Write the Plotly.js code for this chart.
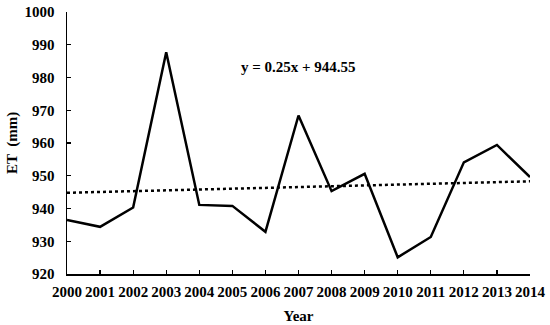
<!DOCTYPE html>
<html>
<head>
<meta charset="utf-8">
<script src="https://cdn.plot.ly/plotly-3.0.1.min.js"></script>
<style>
  body { margin: 0; background: #fff; }
  #graph { width: 550px; height: 325px; }
</style>
</head>
<body>
<div id="graph"></div>
<script>
var years = [2000, 2001, 2002, 2003, 2004, 2005, 2006, 2007, 2008, 2009, 2010, 2011, 2012, 2013, 2014];
var et = [936.5, 934.4, 940.3, 987.7, 941.1, 940.8, 932.9, 968.4, 945.3, 950.6, 925.1, 931.3, 954.1, 959.4, 949.6];

// trend line end points
var trendYears = [2000, 2014];
var trendValues = [944.8, 948.3];

var fontFamily = '"Liberation Serif", "Times New Roman", serif';

var etTrace = {
    type: 'scatter',
    mode: 'lines',
    x: years,
    y: et,
    line: {color: '#000', width: 2.5},
    hoverinfo: 'skip'
};

var trendTrace = {
    type: 'scatter',
    mode: 'lines',
    x: trendYears,
    y: trendValues,
    line: {color: '#000', width: 2.5, dash: 'dot'},
    hoverinfo: 'skip'
};

var layout = {
    width: 550,
    height: 325,
    margin: {l: 67, r: 20, t: 12, b: 51},
    paper_bgcolor: '#fff',
    plot_bgcolor: '#fff',
    showlegend: false,
    font: {family: fontFamily, size: 15, color: '#000', weight: 'bold'},
    xaxis: {
        range: [2000, 2014],
        tickmode: 'array',
        tickvals: years,
        ticktext: years.map(String),
        ticks: 'inside',
        ticklen: 4,
        tickwidth: 1.2,
        tickcolor: '#000',
        showline: true,
        linecolor: '#000',
        linewidth: 1.5,
        showgrid: false,
        zeroline: false,
        ticklabelstandoff: 3,
        tickfont: {family: fontFamily, size: 15, weight: 'bold'},
        title: {text: 'Year', font: {family: fontFamily, size: 15, weight: 'bold'}, standoff: 12}
    },
    yaxis: {
        range: [920, 1000],
        tickmode: 'linear',
        tick0: 920,
        dtick: 10,
        ticks: 'inside',
        ticklen: 4,
        tickwidth: 1.2,
        tickcolor: '#000',
        showline: true,
        linecolor: '#000',
        linewidth: 1.5,
        showgrid: false,
        zeroline: false,
        ticklabelstandoff: 8,
        tickfont: {family: fontFamily, size: 15, weight: 'bold'}
    },
    annotations: [{
        text: 'y = 0.25x + 944.55',
        xref: 'paper',
        yref: 'paper',
        x: 0.5,
        y: 0.79,
        xanchor: 'center',
        yanchor: 'middle',
        showarrow: false,
        font: {family: fontFamily, size: 15, weight: 'bold', color: '#000'}
    }, {
        // y axis title, placed by hand so it sits where the original does
        text: 'ET  (mm)',
        xref: 'paper',
        yref: 'paper',
        x: 0,
        y: 0.5,
        xshift: -55,
        xanchor: 'center',
        yanchor: 'middle',
        textangle: -90,
        showarrow: false,
        font: {family: fontFamily, size: 15, weight: 'bold', color: '#000'}
    }]
};

Plotly.newPlot(document.getElementById('graph'), [trendTrace, etTrace], layout, {displayModeBar: false, staticPlot: true});
</script>
</body>
</html>
